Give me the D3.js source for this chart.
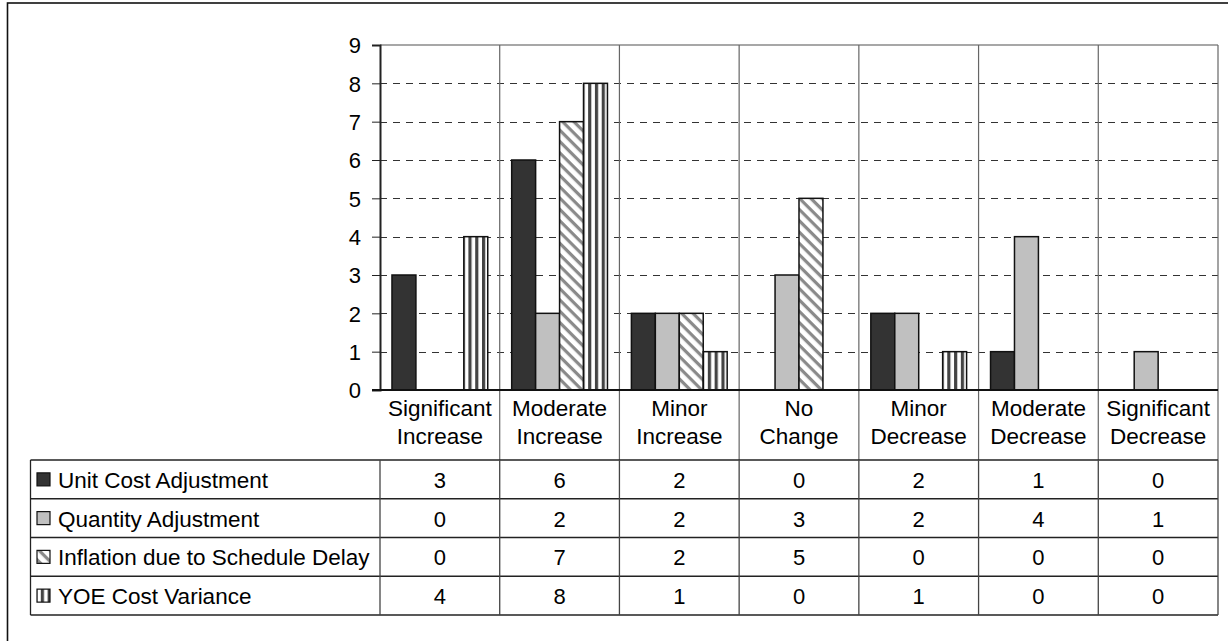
<!DOCTYPE html>
<html>
<head>
<meta charset="utf-8">
<script src="https://cdn.jsdelivr.net/npm/d3@7"></script>
<style>
  html, body { margin: 0; padding: 0; background: #fff; }
  svg { display: block; font-family: "Liberation Sans", Arial, sans-serif; }
</style>
</head>
<body>
<svg id="chart" width="1228" height="641"></svg>
<script>
// Change categories (columns) and the four series of counts
const categories = ["Significant Increase", "Moderate Increase", "Minor Increase", "No Change",
                    "Minor Decrease", "Moderate Decrease", "Significant Decrease"];
const seriesNames = ["Unit Cost Adjustment", "Quantity Adjustment",
                     "Inflation due to Schedule Delay", "YOE Cost Variance"];
const unitCost  = [3, 6, 2, 0, 2, 1, 0];
const quantity  = [0, 2, 2, 3, 2, 4, 1];
const inflation = [0, 7, 2, 5, 0, 0, 0];
const yoe       = [4, 8, 1, 0, 1, 0, 0];
const yTicks = [0, 1, 2, 3, 4, 5, 6, 7, 8, 9];

const seriesValues = [unitCost, quantity, inflation, yoe];
const seriesFill = ["#333333", "#c0c0c0", "url(#diag)", "url(#vert)"];

const svg = d3.select("#chart");

// fill patterns
const defs = svg.append("defs");
const diag = defs.append("pattern").attr("id", "diag").attr("patternUnits", "userSpaceOnUse")
  .attr("width", 8).attr("height", 8).attr("patternTransform", "rotate(45)");
diag.append("rect").attr("width", 8).attr("height", 8).attr("fill", "#fff");
diag.append("rect").attr("x", 0).attr("y", 0).attr("width", 8).attr("height", 3.2).attr("fill", "#8a8a8a");

const vert = defs.append("pattern").attr("id", "vert").attr("patternUnits", "userSpaceOnUse")
  .attr("width", 6.8).attr("height", 10);
vert.append("rect").attr("width", 6.8).attr("height", 10).attr("fill", "#fff");
vert.append("rect").attr("x", 0).attr("width", 3.2).attr("height", 10).attr("fill", "#444");

// outer frame
svg.append("rect").attr("x", 7.5).attr("y", 3).attr("width", 1260).attr("height", 680)
  .attr("fill", "none").attr("stroke", "#111").attr("stroke-width", 1.6);

const plotLeft = 380, plotRight = 1218, plotTop = 45, plotBottom = 390;

const x = d3.scaleBand().domain(categories).range([plotLeft, plotRight]);
const xs = d3.scaleBand().domain(seriesNames).range([0, x.bandwidth()]).paddingInner(0).paddingOuter(0.5);
const y = d3.scaleLinear().domain([0, 9]).range([plotBottom, plotTop]);

// dashed horizontal gridlines
svg.append("g").selectAll("line").data(yTicks.filter(t => t > 0 && t < 9)).join("line")
  .attr("x1", plotLeft).attr("x2", plotRight)
  .attr("y1", d => Math.round(y(d)) + 0.5).attr("y2", d => Math.round(y(d)) + 0.5)
  .attr("stroke", "#333").attr("stroke-width", 1).attr("stroke-dasharray", "7,6");

// top border of plot area
svg.append("line").attr("x1", plotLeft).attr("x2", plotRight)
  .attr("y1", y(9)).attr("y2", y(9)).attr("stroke", "#8a8a8a").attr("stroke-width", 1.5);

// category separators (plot and label rows)
svg.append("g").selectAll("line").data(categories.slice(1).concat(["__end"])).join("line")
  .attr("x1", d => d === "__end" ? plotRight : x(d)).attr("x2", d => d === "__end" ? plotRight : x(d))
  .attr("y1", plotTop).attr("y2", 460)
  .attr("stroke", "#666").attr("stroke-width", 1.2);

// bars
const groups = svg.append("g").selectAll("g").data(categories).join("g")
  .attr("transform", d => `translate(${x(d)},0)`);
groups.selectAll("rect")
  .data((c, ci) => seriesNames.map((s, si) => ({ s, si, v: seriesValues[si][ci] })).filter(d => d.v > 0))
  .join("rect")
  .attr("x", d => xs(d.s)).attr("width", xs.bandwidth())
  .attr("y", d => y(d.v)).attr("height", d => y(0) - y(d.v))
  .attr("fill", d => seriesFill[d.si]).attr("stroke", "#111").attr("stroke-width", 1.5);

// y axis
const yAxis = d3.axisLeft(y).tickValues(yTicks).tickSize(8).tickPadding(11).tickFormat(d3.format("d"));
const ya = svg.append("g").attr("transform", `translate(${plotLeft},0)`).call(yAxis);
ya.select(".domain").attr("stroke", "#222").attr("stroke-width", 2);
ya.selectAll(".tick line").attr("stroke", "#222");
ya.selectAll(".tick text").attr("font-size", 22).attr("fill", "#000").attr("dy", "0.36em")
  .attr("font-family", "Liberation Sans, Arial, sans-serif");

// baseline
svg.append("line").attr("x1", plotLeft - 8).attr("x2", plotRight).attr("y1", y(0)).attr("y2", y(0))
  .attr("stroke", "#111").attr("stroke-width", 2);

// category labels (two lines)
const labels = svg.append("g").selectAll("text").data(categories).join("text")
  .attr("text-anchor", "middle").attr("font-size", 22.5).attr("fill", "#000")
  .attr("x", d => x(d) + x.bandwidth() / 2);
labels.selectAll("tspan").data(d => d.split(" ")).join("tspan")
  .attr("x", function () { return d3.select(this.parentNode).attr("x"); })
  .attr("y", (d, i) => 416 + i * 28).text(d => d);

// data table
const tableLeft = 30.5, tableTop = 460, rowH = 38.75;
const table = svg.append("g");
const rowY = i => tableTop + i * rowH;

table.selectAll("line.h").data(d3.range(seriesNames.length + 1)).join("line")
  .attr("class", "h").attr("x1", tableLeft).attr("x2", plotRight)
  .attr("y1", d => rowY(d)).attr("y2", d => rowY(d))
  .attr("stroke", "#222").attr("stroke-width", 1.3);
table.append("line").attr("x1", tableLeft).attr("x2", tableLeft)
  .attr("y1", rowY(0)).attr("y2", rowY(seriesNames.length)).attr("stroke", "#222").attr("stroke-width", 1.3);
table.selectAll("line.v").data(categories.concat(["__end"])).join("line")
  .attr("class", "v")
  .attr("x1", d => d === "__end" ? plotRight : x(d)).attr("x2", d => d === "__end" ? plotRight : x(d))
  .attr("y1", rowY(0)).attr("y2", rowY(seriesNames.length))
  .attr("stroke", "#444").attr("stroke-width", 1.3);

seriesNames.forEach((name, si) => {
  const cy = rowY(si) + rowH / 2;
  table.append("rect").attr("x", 37).attr("y", cy - 6.5).attr("width", 13).attr("height", 13)
    .attr("fill", seriesFill[si]).attr("stroke", "#111").attr("stroke-width", 1.2);
  table.append("text").attr("x", 58).attr("y", cy + 8.5).attr("font-size", 22.5).attr("fill", "#000")
    .text(name);
  table.selectAll(null).data(categories).join("text")
    .attr("x", d => x(d) + x.bandwidth() / 2).attr("y", cy + 8.5)
    .attr("text-anchor", "middle").attr("font-size", 22).attr("fill", "#000")
    .text((d, ci) => seriesValues[si][ci]);
});
</script>
</body>
</html>
